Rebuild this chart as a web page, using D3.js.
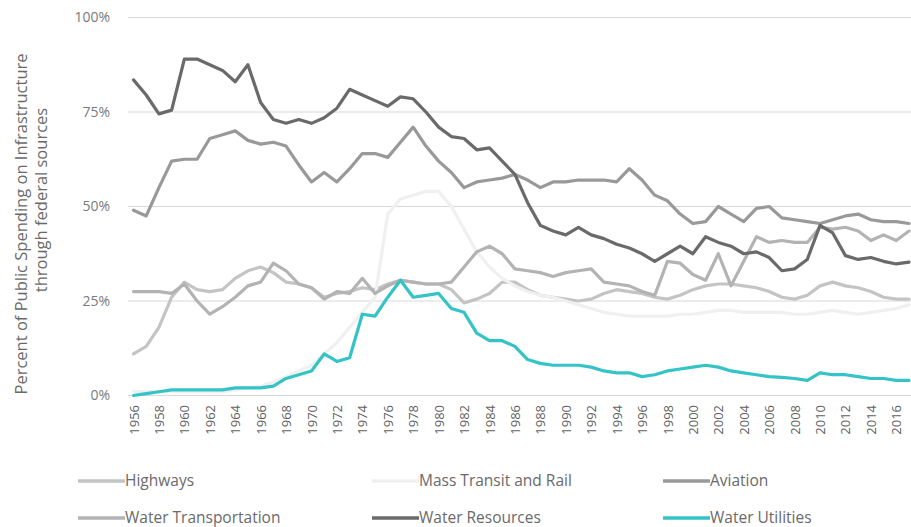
<!DOCTYPE html>
<html><head><meta charset="utf-8">
<script src="https://cdn.jsdelivr.net/npm/d3@7"></script>
<style>
html,body{margin:0;padding:0;background:#fff;}
svg{display:block;font-family:"Open Sans","Noto Sans",sans-serif;}
</style></head>
<body><svg id="c" width="911" height="527"></svg>
<script>
const years = [1956,1957,1958,1959,1960,1961,1962,1963,1964,1965,1966,1967,1968,1969,1970,1971,1972,1973,1974,1975,1976,1977,1978,1979,1980,1981,1982,1983,1984,1985,1986,1987,1988,1989,1990,1991,1992,1993,1994,1995,1996,1997,1998,1999,2000,2001,2002,2003,2004,2005,2006,2007,2008,2009,2010,2011,2012,2013,2014,2015,2016,2017];
const highways = [11,13,18,26,30,28,27.5,28,31,33,34,32.5,30,29.5,28.5,26,27,27.5,28.5,28,29.5,30.5,30,29.5,29.5,28,24.5,25.5,27,30,30,28,26.5,26,25.5,25,25.5,27,28,27.5,27,26,25.5,26.5,28,29,29.5,29.5,29,28.5,27.5,26,25.5,26.5,29,30,29,28.5,27.5,26,25.5,25.5];
const massTransit = [1,1,1,1,1,1,1,1,1.5,2,2.5,3.5,5,6.5,8,11,14,18,22,26,48,52,53,54,54,50,44,38,34,31,29,27.5,26.5,26,25,24,23,22,21.5,21,21,21,21,21.5,21.5,22,22.5,22.5,22,22,22,22,21.5,21.5,22,22.5,22,21.5,22,22.5,23,24];
const aviation = [49,47.5,55,62,62.5,62.5,68,69,70,67.5,66.5,67,66,61,56.5,59,56.5,60,64,64,63,67,71,66,62,59,55,56.5,57,57.5,58.5,57,55,56.5,56.5,57,57,57,56.5,60,57,53,51.5,48,45.5,46,50,48,46,49.5,50,47,46.5,46,45.5,46.5,47.5,48,46.5,46,46,45.5];
const waterTransportation = [27.5,27.5,27.5,27,29.5,25,21.5,23.5,26,29,30,35,33,29.5,28.5,25.5,27.5,27,31,27,29,30.5,30,29.5,29.5,30,34,38,39.5,37.5,33.5,33,32.5,31.5,32.5,33,33.5,30,29.5,29,27.5,26.5,35.5,35,32,30.5,37.5,29,35.5,42,40.5,41,40.5,40.5,44.5,44,44.5,43.5,41,42.5,41,43.5];
const waterResources = [83.5,79.5,74.5,75.5,89,89,87.5,86,83,87.5,77.5,73,72,73,72,73.5,76,81,79.5,78,76.5,79,78.5,75,71,68.5,68,65,65.5,62,58.5,51,45,43.5,42.5,44.5,42.5,41.5,40,39,37.5,35.5,37.5,39.5,37.5,42,40.5,39.5,37.5,38,36.5,33,33.5,36,45,43,37,36,36.5,35.5,34.8,35.3];
const waterUtilities = [0,0.5,1,1.5,1.5,1.5,1.5,1.5,2,2,2,2.5,4.5,5.5,6.5,11,9,10,21.5,21,26,30.5,26,26.5,27,23,22,16.5,14.5,14.5,13,9.5,8.5,8,8,8,7.5,6.5,6,6,5,5.5,6.5,7,7.5,8,7.5,6.5,6,5.5,5,4.8,4.5,4,6,5.5,5.5,5,4.5,4.5,4,4];
const yTicks = [0,25,50,75,100];
const xTickLabels = [1956,1958,1960,1962,1964,1966,1968,1970,1972,1974,1976,1978,1980,1982,1984,1986,1988,1990,1992,1994,1996,1998,2000,2002,2004,2006,2008,2010,2012,2014,2016];
const seriesNames = ["Highways","Mass Transit and Rail","Aviation","Water Transportation","Water Resources","Water Utilities"];
const seriesValues = [highways, massTransit, aviation, waterTransportation, waterResources, waterUtilities];
const seriesColors = ["#c4c4c4","#f0f0f0","#999999","#b3b3b3","#6a6a6a","#34c3c6"];
const yTitle = ["Percent of Public Spending on Infrastructure","through federal sources"];

const svg = d3.select("#c");
const x = d3.scalePoint().domain(years).range([133.5, 909]);
const y = d3.scaleLinear().domain([0,100]).range([395.5, 17.5]);

// gridlines
svg.append("g").selectAll("line").data(yTicks).join("line")
  .attr("x1",128).attr("x2",911)
  .attr("y1",d=>y(d)).attr("y2",d=>y(d))
  .attr("stroke","#d9d9d9").attr("stroke-width",1);

// y axis labels
const yAxis = d3.axisLeft(y).tickValues(yTicks).tickSize(0).tickPadding(0).tickFormat(d=>d+"%");
const gy = svg.append("g").attr("transform","translate(110,0)").call(yAxis);
gy.select(".domain").remove();
gy.selectAll("text").attr("fill","#7a7a7a").attr("font-size",14).attr("font-family","'Open Sans',sans-serif");

// x axis labels
const xAxis = d3.axisBottom(x).tickValues(xTickLabels).tickSize(0).tickPadding(0);
const gx = svg.append("g").attr("transform","translate(0,405)").call(xAxis);
gx.select(".domain").remove();
gx.selectAll("text").attr("fill","#5f5f5f").attr("font-size",13).attr("font-family","'Open Sans',sans-serif")
  .attr("text-anchor","end").attr("dy","0.35em").attr("y",0).attr("transform","rotate(-90)");

// lines
const line = d3.line().x((d,i)=>x(years[i])).y(d=>y(d));
svg.append("g").selectAll("path").data(seriesValues).join("path")
  .attr("d",d=>line(d)).attr("fill","none")
  .attr("stroke",(d,i)=>seriesColors[i]).attr("stroke-width",3.2)
  .attr("stroke-linejoin","round").attr("stroke-linecap","round");

// y title
svg.append("text").attr("transform","translate(27,224) rotate(-90)").attr("text-anchor","middle")
  .attr("font-size",16.5).attr("fill","#6a6a6a").text(yTitle[0]);
svg.append("text").attr("transform","translate(47,200) rotate(-90)").attr("text-anchor","middle")
  .attr("font-size",16.5).attr("fill","#6a6a6a").text(yTitle[1]);

// legend
const legX = [78, 372, 663];
const legY = [481, 518];
const lg = svg.append("g").selectAll("g").data(seriesNames).join("g")
  .attr("transform",(d,i)=>`translate(${legX[i%3]},${legY[Math.floor(i/3)]})`);
lg.append("line").attr("x1",0).attr("x2",47).attr("y1",0).attr("y2",0)
  .attr("stroke",(d,i)=>seriesColors[i]).attr("stroke-width",3.5);
lg.append("text").attr("x",47).attr("y",0).attr("dy","0.35em")
  .attr("font-size",15.5).attr("fill","#6a6a6a").text(d=>d);
</script></body></html>
